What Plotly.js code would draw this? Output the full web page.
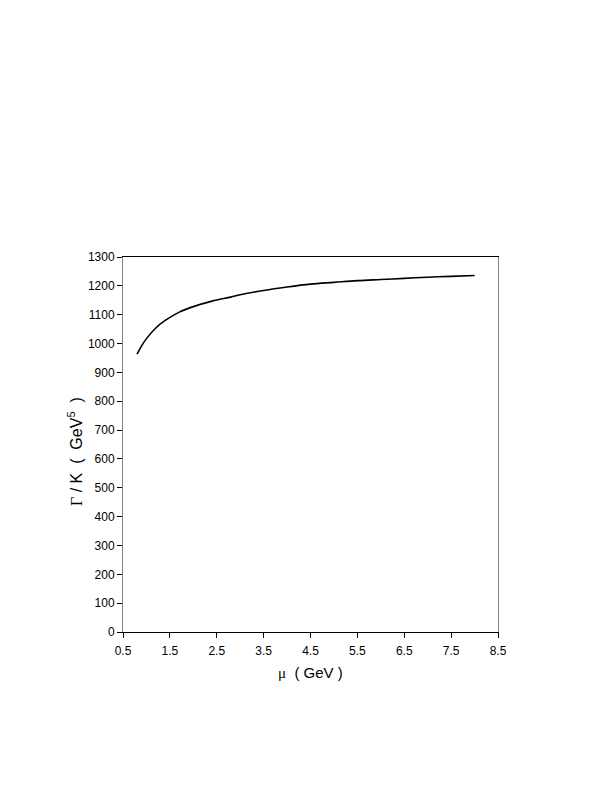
<!DOCTYPE html>
<html>
<head>
<meta charset="utf-8">
<script src="https://cdn.plot.ly/plotly-3.0.1.min.js"></script>
<style>html,body{margin:0;padding:0;background:#fff;}#chart{width:616px;height:800px;}</style>
</head>
<body>
<div id="chart"></div>
<script>
var mu = [0.8, 0.9, 1.0, 1.2, 1.4, 1.7, 2.0, 2.4, 2.8, 3.0, 3.5, 4.0, 4.5, 5.0, 5.5, 6.0, 6.5, 7.0, 7.5, 8.0];
var gammaK = [963, 993, 1017, 1054, 1080, 1109, 1128, 1147, 1161, 1169, 1184, 1196, 1206, 1212, 1218, 1222, 1226, 1230, 1233, 1236];
var xTicks = [0.5, 1.5, 2.5, 3.5, 4.5, 5.5, 6.5, 7.5, 8.5];
var yTicks = [0, 100, 200, 300, 400, 500, 600, 700, 800, 900, 1000, 1100, 1200, 1300];
var xTitle = '<span style="font-family:Liberation Serif">μ</span>&nbsp;&nbsp;(&nbsp;GeV&nbsp;)';
var yTitle = '<span style="font-family:Liberation Serif">Γ</span>&nbsp;/&nbsp;K&nbsp;&nbsp;(&nbsp;&nbsp;GeV<sup>5</sup>&nbsp;&nbsp;)';

var trace = {
  x: mu, y: gammaK, type: 'scatter', mode: 'lines',
  line: {color: '#000', width: 1.6, shape: 'spline', smoothing: 1},
  hoverinfo: 'skip'
};
var fam = 'Liberation Sans, Arial, sans-serif';
var layout = {
  width: 616, height: 800,
  margin: {l: 123, r: 118, t: 257, b: 168},
  paper_bgcolor: '#fff', plot_bgcolor: '#fff',
  showlegend: false,
  font: {family: fam, color: '#000'},
  xaxis: {
    range: [0.5, 8.5], tickvals: xTicks, ticktext: xTicks.map(function(v){return v.toFixed(1);}),
    showgrid: false, zeroline: false,
    showline: true, linecolor: '#000', linewidth: 1, mirror: true,
    ticks: 'outside', ticklen: 5, tickcolor: '#000', tickwidth: 1,
    ticklabelstandoff: 3,
    tickfont: {size: 12, family: fam, color: '#000'}
  },
  yaxis: {
    range: [0, 1300], tickvals: yTicks,
    showgrid: false, zeroline: false,
    showline: true, linecolor: '#808080', linewidth: 1, mirror: true,
    ticks: 'outside', ticklen: 5, tickcolor: '#000', tickwidth: 1,
    tickfont: {size: 12, family: fam, color: '#000'}
  },
  annotations: [
    {text: xTitle, xref: 'paper', yref: 'paper', x: 0.4995, y: -0.108, xanchor: 'center', yanchor: 'middle',
     showarrow: false, font: {size: 15, family: fam, color: '#000'}},
    {text: yTitle, xref: 'paper', yref: 'paper', x: -0.128, y: 0.48, xanchor: 'center', yanchor: 'middle',
     textangle: -90, showarrow: false, font: {size: 16, family: fam, color: '#000'}}
  ]
};
Plotly.newPlot('chart', [trace], layout, {displayModeBar: false, staticPlot: true});
</script>
</body>
</html>
